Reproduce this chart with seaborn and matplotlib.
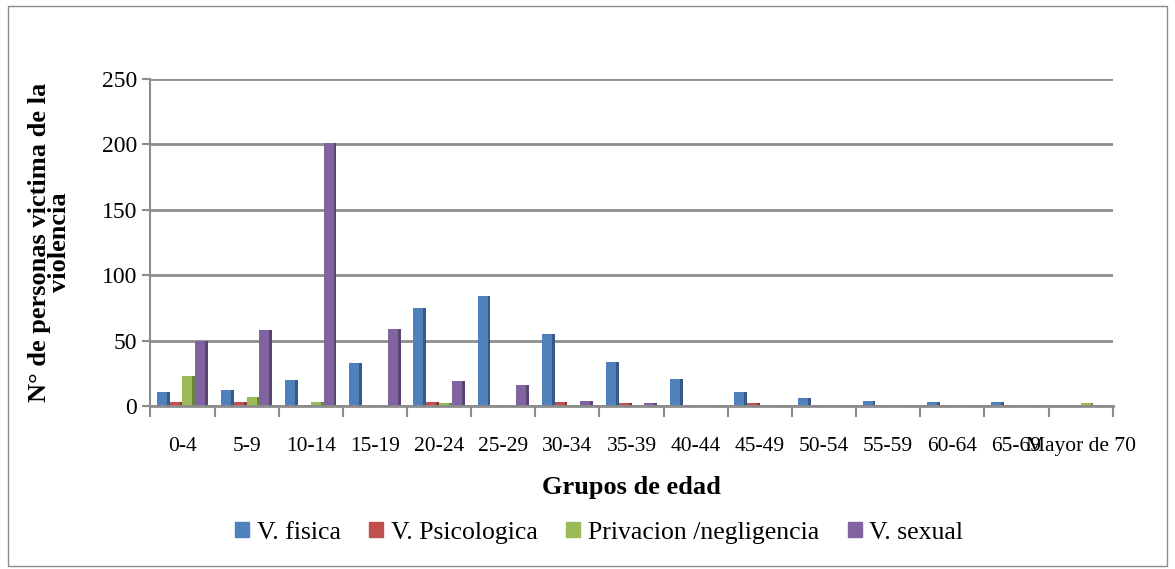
import seaborn as sns
import matplotlib.pyplot as plt
import matplotlib.patches as mpatches
import pandas as pd

grupos = ["0-4", "5-9", "10-14", "15-19", "20-24", "25-29", "30-34", "35-39",
          "40-44", "45-49", "50-54", "55-59", "60-64", "65-69", "Mayor de 70"]
v_fisica = [11, 12, 20, 33, 75, 84, 55, 34, 21, 11, 6, 4, 3, 3, 1]
v_psicologica = [3, 3, 1, 1, 3, 1, 3, 2, 1, 2, 1, 0.7, 0.7, 0.7, 0.7]
privacion = [23, 7, 3, 1, 2, 0.7, 1, 1, 0.7, 0.7, 0.7, 0.7, 0.7, 0.7, 2]
v_sexual = [50, 58, 201, 59, 19, 16, 4, 2, 0.7, 0.7, 0.7, 0.7, 0.7, 0.7, 0.7]

series = ["V. fisica", "V. Psicologica", "Privacion /negligencia", "V. sexual"]
colores = ["#4F81BD", "#C0504D", "#9BBB59", "#8064A2"]

# tabla larga para seaborn
df = pd.DataFrame({"grupo": grupos, series[0]: v_fisica, series[1]: v_psicologica,
                   series[2]: privacion, series[3]: v_sexual})
df = df.melt(id_vars="grupo", var_name="tipo", value_name="n")

plt.rcParams["font.family"] = ["Liberation Serif", "DejaVu Serif"]

fig = plt.figure(figsize=(11.75, 5.69), dpi=100)
ax = fig.add_axes([0.128, 0.2865, 0.819, 0.5745])

sns.barplot(data=df, x="grupo", y="n", hue="tipo", order=grupos, hue_order=series,
            palette=colores, width=0.8, saturation=1, ax=ax, legend=False,
            edgecolor="none", errorbar=None)

# sombra lateral para imitar el efecto 3D
for p in ax.patches:
    h = p.get_height()
    if h <= 0:
        continue
    w = p.get_width()
    col = p.get_facecolor()
    dark = tuple(c * 0.7 for c in col[:3])
    ax.add_patch(mpatches.Rectangle((p.get_x() + w * 0.78, 0), w * 0.22, h,
                                    facecolor=dark, edgecolor="none", zorder=p.get_zorder()))

ax.set_ylim(0, 250)
ax.set_xlim(-0.5, len(grupos) - 0.5)
ax.set_yticks([0, 50, 100, 150, 200, 250])
ax.yaxis.grid(True, color="#8c8c8c", linewidth=2)
ax.set_axisbelow(True)
for s in ["top", "right"]:
    ax.spines[s].set_visible(False)
ax.spines["left"].set_color("#8c8c8c")
ax.spines["left"].set_linewidth(1.5)
ax.spines["bottom"].set_color("#8c8c8c")
ax.spines["bottom"].set_linewidth(2)

ax.set_xticks([i - 0.5 for i in range(len(grupos) + 1)], minor=True)
ax.tick_params(axis="x", which="major", length=0, labelsize=15.5, pad=22)
ax.tick_params(axis="x", which="minor", length=8, color="#8c8c8c", width=1.5)
ax.tick_params(axis="y", length=6, color="#8c8c8c", width=1.5, labelsize=17)

ax.set_xlabel("Grupos de edad", fontsize=19, fontweight="bold", labelpad=15)
ax.set_ylabel("N° de personas victima de la\nviolencia", fontsize=19,
              fontweight="bold", labelpad=22, linespacing=0.85)

handles = [mpatches.Patch(color=c, label=s) for c, s in zip(colores, series)]
fig.legend(handles=handles, loc="center", bbox_to_anchor=(0.51, 0.064), ncol=4,
           frameon=False, fontsize=18.5, handlelength=0.55, handleheight=0.55,
           handletextpad=0.3, columnspacing=1.1)

fig.add_artist(mpatches.Rectangle((0.007, 0.005), 0.986, 0.984, transform=fig.transFigure,
                                  fill=False, edgecolor="#8c8c8c", linewidth=1))

fig.savefig("out.png", dpi=100)
